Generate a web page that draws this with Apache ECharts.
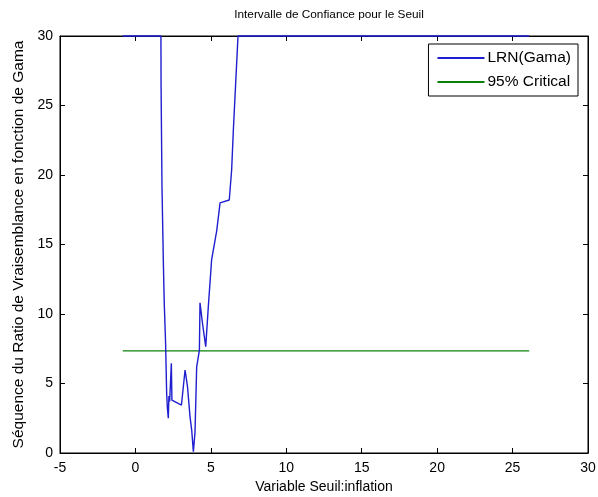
<!DOCTYPE html>
<html>
<head>
<meta charset="utf-8">
<script src="https://cdn.jsdelivr.net/npm/echarts@6/dist/echarts.min.js"></script>
<style>
html,body{margin:0;padding:0;background:#fff;}
#c{width:598px;height:497px;}
</style>
</head>
<body>
<div id="c"></div>
<script>
var seuilX = [-0.84, 1.69, 1.70, 1.76, 1.85, 1.91, 2.00, 2.07, 2.12, 2.18, 2.22, 2.27, 2.38, 2.42, 3.05, 3.29, 3.45, 3.62, 3.73, 3.84, 3.88, 3.95, 4.06, 4.24, 4.28, 4.45, 4.66, 4.83, 5.05, 5.39, 5.61, 6.22, 6.38, 6.49, 6.80, 26.10];
var lrnGama = [30, 30, 26.4, 19.2, 13.8, 10.8, 7.9, 4.3, 3.2, 2.5, 4.1, 3.7, 6.45, 3.8, 3.45, 5.97, 4.8, 2.6, 1.65, 0.1, 0.1, 1.5, 6.2, 7.4, 10.8, 9.3, 7.65, 10.5, 13.9, 16.0, 18.0, 18.2, 20.4, 23.2, 30, 30];
var criticalX = [-0.84, 26.10];
var criticalY = [7.35, 7.35];
var xTicks = {min: -5, max: 30, interval: 5};
var yTicks = {min: 0, max: 30, interval: 5};

function pairs(xs, ys) { return xs.map(function (x, i) { return [x, ys[i]]; }); }

var font = '"Liberation Sans", Arial, sans-serif';
var chart = echarts.init(document.getElementById('c'), null, {renderer: 'canvas'});
var axisCommon = {
  type: 'value',
  axisLine: {show: true, onZero: false, lineStyle: {color: '#000', width: 1}},
  axisTick: {show: true, inside: true, length: 5, lineStyle: {color: '#000'}},
  splitLine: {show: false}
};
chart.setOption({
  animation: false,
  backgroundColor: '#fff',
  title: {
    text: 'Intervalle de Confiance pour le Seuil',
    left: 324, top: 4, textAlign: 'center',
    textStyle: {fontFamily: font, fontSize: 11.8, fontWeight: 'normal', color: '#000'}
  },
  grid: {left: 60, right: 10, top: 36, bottom: 44, show: true, borderColor: '#000', borderWidth: 1, outerBoundsMode: 'none', containLabel: false},
  legend: {
    right: 20, top: 44,
    orient: 'vertical',
    backgroundColor: '#fff',
    borderColor: '#000', borderWidth: 1,
    padding: [6, 7, 6, 9],
    itemGap: 8,
    itemWidth: 47, itemHeight: 2,
    textStyle: {fontFamily: font, fontSize: 15.5, color: '#000', padding: [0, 0, 0, -2]},
    data: [{name: 'LRN(Gama)', icon: 'rect'}, {name: '95% Critical', icon: 'rect'}]
  },
  xAxis: [
    Object.assign({}, axisCommon, {
      min: xTicks.min, max: xTicks.max, interval: xTicks.interval,
      name: 'Variable Seuil:inflation', nameLocation: 'middle', nameGap: 27,
      nameTextStyle: {fontFamily: font, fontSize: 14, color: '#000'},
      axisLabel: {fontFamily: font, fontSize: 14, color: '#000', margin: 8}
    }),
    Object.assign({}, axisCommon, {
      position: 'top', min: xTicks.min, max: xTicks.max, interval: xTicks.interval,
      axisLabel: {show: false}
    })
  ],
  yAxis: [
    Object.assign({}, axisCommon, {
      min: yTicks.min, max: yTicks.max, interval: yTicks.interval,
      name: 'Séquence du Ratio de Vraisemblance en fonction de Gama', nameLocation: 'middle', nameGap: 27,
      nameTextStyle: {fontFamily: font, fontSize: 15.5, color: '#000'},
      axisLabel: {fontFamily: font, fontSize: 14, color: '#000', margin: 7}
    }),
    Object.assign({}, axisCommon, {
      position: 'right', min: yTicks.min, max: yTicks.max, interval: yTicks.interval,
      axisLabel: {show: false}
    })
  ],
  series: [
    {
      name: 'LRN(Gama)', type: 'line', data: pairs(seuilX, lrnGama),
      showSymbol: false, symbol: 'none', clip: false, z: 5,
      color: '#1f1fd0',
      lineStyle: {color: '#1f1fd0', width: 1.4}
    },
    {
      name: '95% Critical', type: 'line', data: pairs(criticalX, criticalY),
      showSymbol: false, symbol: 'none',
      color: '#0a800a',
      lineStyle: {color: '#0a800a', width: 1.3}
    }
  ]
});
</script>
</body>
</html>
